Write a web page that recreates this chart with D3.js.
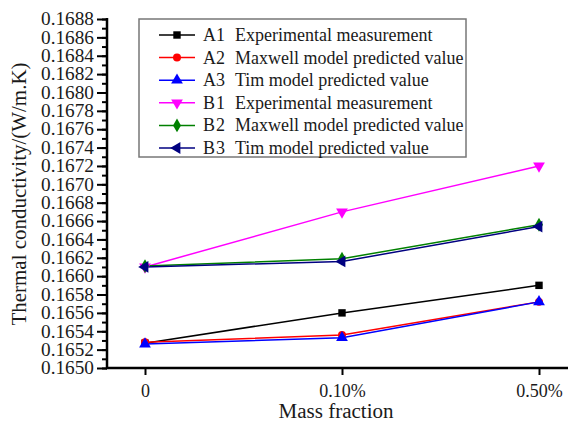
<!DOCTYPE html>
<html>
<head>
<meta charset="utf-8">
<script src="https://cdn.jsdelivr.net/npm/d3@7"></script>
<style>
  body { margin: 0; background: #fff; }
  text { font-family: "Liberation Serif", "Times New Roman", serif; fill: #1a1a1a; }
</style>
</head>
<body>
<svg width="571" height="423"></svg>
<script>
var svg = d3.select('svg');

// data
var categories = ['0', '0.10%', '0.50%'];
var codes = ['A1', 'A2', 'A3', 'B1', 'B2', 'B3'];
var names = ['Experimental measurement', 'Maxwell model predicted value', 'Tim model predicted value',
             'Experimental measurement', 'Maxwell model predicted value', 'Tim model predicted value'];
var A1 = [0.16527, 0.16560, 0.16590];
var A2 = [0.16528, 0.16536, 0.16572];
var A3 = [0.16526, 0.16533, 0.16572];
var B1 = [0.16610, 0.16670, 0.16720];
var B2 = [0.16611, 0.16619, 0.16656];
var B3 = [0.16610, 0.16616, 0.16654];
var yTicks = d3.range(0, 20).map(function(i) { return +(0.1650 + i * 0.0002).toFixed(4); });
var yMinor = d3.range(0, 39).map(function(i) { return +(0.1650 + i * 0.0001).toFixed(4); });

var colors = ['#000000', '#ff0000', '#0000ff', '#ff00ff', '#008000', '#000080'];
var seriesData = [A1, A2, A3, B1, B2, B3];

var plotL = 107, plotR = 568, plotT = 19, plotB = 368;

var x = d3.scalePoint().domain(categories).range([145, 539]);
var y = d3.scaleLinear().domain([0.1650, 0.1688]).range([plotB, plotT]);

// axes
var yMinorG = svg.append('g')
    .attr('transform', 'translate(' + plotL + ',0)')
    .call(d3.axisLeft(y).tickValues(yMinor).tickSize(5).tickFormat(''));
var yAxisG = svg.append('g')
    .attr('transform', 'translate(' + plotL + ',0)')
    .call(d3.axisLeft(y).tickValues(yTicks).tickSize(10).tickPadding(3).tickFormat(d3.format('.4f')));
var xAxisG = svg.append('g')
    .attr('transform', 'translate(0,' + plotB + ')')
    .call(d3.axisBottom(x).tickSize(7).tickPadding(6));

[yMinorG, yAxisG, xAxisG].forEach(function(g) {
    g.select('.domain').remove();
    g.selectAll('line').attr('stroke', '#000').attr('stroke-width', 2);
    g.selectAll('text').attr('font-size', 18).style('font-family', '"Liberation Serif", serif').attr('fill', '#1a1a1a');
});
yAxisG.selectAll('text').attr('textLength', 53).attr('lengthAdjust', 'spacingAndGlyphs');
xAxisG.selectAll('text').attr('dy', '0.9em');

// axis lines
svg.append('line').attr('x1', plotL).attr('x2', plotL).attr('y1', plotT - 1).attr('y2', plotB + 1)
    .attr('stroke', '#000').attr('stroke-width', 2.5);
svg.append('line').attr('x1', plotL - 1).attr('x2', plotR).attr('y1', plotB).attr('y2', plotB)
    .attr('stroke', '#000').attr('stroke-width', 2.5);

// axis titles
svg.append('text')
    .attr('transform', 'translate(26,' + 194 + ') rotate(-90)')
    .attr('text-anchor', 'middle')
    .attr('font-size', 20)
    .attr('textLength', 263).attr('lengthAdjust', 'spacingAndGlyphs')
    .text('Thermal conductivity/(W/m.K)');
svg.append('text')
    .attr('x', 336).attr('y', 418)
    .attr('text-anchor', 'middle')
    .attr('font-size', 20)
    .attr('textLength', 115).attr('lengthAdjust', 'spacingAndGlyphs')
    .text('Mass fraction');

// markers
function markerPath(i) {
    if (i === 0) return d3.symbol(d3.symbolSquare, 55)();
    if (i === 1) return d3.symbol(d3.symbolCircle, 50)();
    if (i === 4) return d3.symbol(d3.symbolDiamond, 55)();
    return d3.symbol(d3.symbolTriangle, 60)();
}
function markerRotate(i) {
    if (i === 3) return ' rotate(180)';
    if (i === 5) return ' rotate(-90)';
    return '';
}

var line = d3.line()
    .x(function(d, j) { return x(categories[j]); })
    .y(function(d) { return y(d); });

seriesData.forEach(function(vals, i) {
    svg.append('path')
        .datum(vals)
        .attr('d', line)
        .attr('fill', 'none')
        .attr('stroke', colors[i])
        .attr('stroke-width', 1.5);
});
seriesData.forEach(function(vals, i) {
    svg.selectAll('.m' + i)
        .data(vals)
        .enter().append('path')
        .attr('class', 'm' + i)
        .attr('d', markerPath(i))
        .attr('fill', colors[i])
        .attr('transform', function(d, j) {
            return 'translate(' + x(categories[j]) + ',' + y(d) + ')' + markerRotate(i);
        });
});

// legend
var legend = svg.append('g');
legend.append('rect')
    .attr('x', 139).attr('y', 19).attr('width', 327).attr('height', 138)
    .attr('fill', '#fff').attr('stroke', '#777').attr('stroke-width', 1.5);

codes.forEach(function(c, i) {
    var ly = 35 + i * 22.6;
    var row = legend.append('g').attr('transform', 'translate(0,' + ly + ')');
    row.append('line').attr('x1', 159).attr('x2', 195).attr('y1', 0).attr('y2', 0)
        .attr('stroke', colors[i]).attr('stroke-width', 1.5);
    row.append('path').attr('d', markerPath(i)).attr('fill', colors[i])
        .attr('transform', 'translate(177,0)' + markerRotate(i));
    row.append('text').attr('x', 203).attr('y', 6).attr('font-size', 18)
        .attr('textLength', 22).attr('lengthAdjust', 'spacing')
        .text(c);
    row.append('text').attr('x', 235).attr('y', 6).attr('font-size', 18)
        .text(names[i]);
});
</script>
</body>
</html>
